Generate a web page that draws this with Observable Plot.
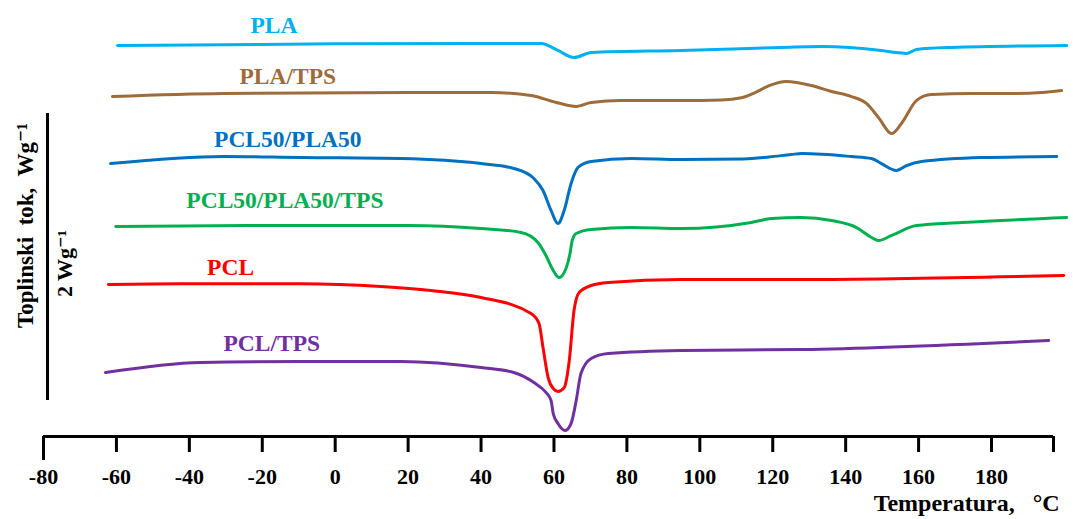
<!DOCTYPE html>
<html>
<head>
<meta charset="utf-8">
<script src="https://cdn.jsdelivr.net/npm/d3@7"></script>
<script src="https://cdn.jsdelivr.net/npm/@observablehq/plot@0.6"></script>
<style>
  html, body { margin: 0; padding: 0; background: #fff; }
  #chart svg { display: block; }
</style>
</head>
<body>
<div id="chart"></div>
<script>
// ---- Data (temperature °C, heat flow W/g with stacking offsets) ----
const plaT = [-59.7, -30, 0, 40, 56.5, 61.1, 65.5, 70.2, 94.9, 122.4, 133.3, 149.8, 153.9, 156.7, 159.4, 169, 200.6];
const plaH = [2.725, 2.730, 2.737, 2.739, 2.739, 2.690, 2.641, 2.676, 2.690, 2.711, 2.718, 2.690, 2.676, 2.669, 2.697, 2.711, 2.725];

const plaTpsT = [-61.1, -30.6, 20, 42.7, 53.7, 60.6, 66.1, 70.2, 78.4, 94.9, 106, 111.4, 115, 119, 123.7, 130.6, 136.1, 141.6, 145.7, 149.0, 152.6, 155.3, 159.4, 163.5, 174.5, 185.5, 193.8, 199.2];
const plaTpsH = [2.369, 2.390, 2.397, 2.397, 2.376, 2.328, 2.300, 2.328, 2.341, 2.341, 2.345, 2.360, 2.395, 2.445, 2.474, 2.446, 2.404, 2.369, 2.321, 2.223, 2.111, 2.181, 2.341, 2.383, 2.390, 2.390, 2.397, 2.411];

const pcl50T = [-61.6, -30.6, -9.4, 18, 40, 49, 54.5, 57, 59.2, 61.1, 62.8, 64.7, 66.6, 70.2, 81.2, 94.9, 112, 119, 125.1, 127.9, 141.6, 147.1, 149.8, 153.9, 156.7, 160.8, 177.3, 197.9];
const pcl50H = [1.902, 1.951, 1.944, 1.937, 1.902, 1.868, 1.798, 1.714, 1.575, 1.484, 1.575, 1.763, 1.875, 1.916, 1.937, 1.930, 1.934, 1.948, 1.965, 1.972, 1.951, 1.937, 1.902, 1.854, 1.888, 1.916, 1.944, 1.951];

const pcl50TpsT = [-60.2, -20, 20, 40, 51, 55.6, 57.8, 59.8, 61.4, 63.3, 64.4, 65.0, 66.1, 70.2, 81.2, 94.9, 114.1, 119.6, 127.9, 136.1, 143.0, 147.1, 149.0, 152.6, 159.4, 171.8, 200.6];
const pcl50TpsH = [1.463, 1.470, 1.470, 1.449, 1.422, 1.352, 1.261, 1.157, 1.108, 1.171, 1.275, 1.366, 1.415, 1.443, 1.456, 1.449, 1.491, 1.519, 1.526, 1.505, 1.456, 1.387, 1.366, 1.401, 1.470, 1.491, 1.526];

const pclT = [-62.2, -42.4, -9.4, 12.5, 26.3, 40, 53.7, 55.9, 57.0, 58.4, 59.8, 61.1, 62.8, 64.2, 65.5, 66.9, 70.2, 74.9, 94.9, 127.9, 199.8];
const pclH = [1.059, 1.064, 1.064, 1.045, 1.017, 0.969, 0.857, 0.787, 0.620, 0.411, 0.334, 0.314, 0.341, 0.530, 0.878, 1.003, 1.052, 1.073, 1.094, 1.094, 1.122];

const pclTpsT = [-63.0, -36.9, -9.4, 18, 40, 49, 54.5, 57.8, 59.2, 59.8, 61.1, 63.1, 64.7, 66.1, 67.4, 70.2, 74.9, 94.9, 127.9, 195.7];
const pclTpsH = [0.446, 0.516, 0.523, 0.523, 0.481, 0.446, 0.376, 0.307, 0.251, 0.160, 0.091, 0.042, 0.091, 0.251, 0.439, 0.544, 0.578, 0.599, 0.606, 0.669];

const seriesNames = ["PLA", "PLA/TPS", "PCL50/PLA50", "PCL50/PLA50/TPS", "PCL", "PCL/TPS"];
const seriesColors = ["#00b0f0", "#9e6b3a", "#0070c0", "#00b050", "#ff0000", "#7030a0"];
const seriesT = [plaT, plaTpsT, pcl50T, pcl50TpsT, pclT, pclTpsT];
const seriesH = [plaH, plaTpsH, pcl50H, pcl50TpsH, pclH, pclTpsH];
const labelT = [-16.8, -13.0, -13.0, -13.8, -28.7, -17.4];
const labelH = [2.864, 2.509, 2.070, 1.645, 1.178, 0.648];

const tickValues = [-80, -60, -40, -20, 0, 20, 40, 60, 80, 100, 120, 140, 160, 180, 197];
const tickLabels = ["-80", "-60", "-40", "-20", "0", "20", "40", "60", "80", "100", "120", "140", "160", "180", ""];

// scale bar: 2 W/g
const scaleBar = [{T: -78.9, H1: 0.251, H2: 2.251}];

const serif = "'Liberation Serif', 'Times New Roman', 'DejaVu Serif', serif";

const lineMarks = seriesNames.map((name, i) => {
  const rows = seriesT[i].map((t, j) => ({T: t, H: seriesH[i][j]}));
  return Plot.line(rows, {x: "T", y: "H", stroke: seriesColors[i], strokeWidth: 3, curve: "monotone-x"});
});
const labelMarks = seriesNames.map((name, i) =>
  Plot.text([{T: labelT[i], H: labelH[i], name}], {x: "T", y: "H", text: "name", fill: seriesColors[i], fontSize: 23.5, fontWeight: "bold"})
);

const chart = Plot.plot({
  width: 1085,
  height: 519,
  marginLeft: 43,
  marginRight: 32,
  marginTop: 5.5,
  marginBottom: 83,
  style: {fontFamily: serif, background: "#fff", color: "#000"},
  x: {domain: [-80, 197]},
  y: {domain: [0, 3], axis: null},
  marks: [
    Plot.ruleY([0], {strokeWidth: 3}),
    Plot.axisX({
      ticks: tickValues,
      tickFormat: (d) => tickLabels[tickValues.indexOf(d)],
      tickSize: 16,
      tickPadding: 16,
      strokeWidth: 3,
      fontSize: 22,
      fontWeight: "bold",
      label: null
    }),
    Plot.ruleX([-80], {y1: 0, y2: -0.167, strokeWidth: 3}),
    Plot.ruleX(scaleBar, {x: "T", y1: "H1", y2: "H2", strokeWidth: 3}),
    Plot.text(["2 Wg\u207B\u00B9"], {x: -74, y: 1.206, rotate: -90, fontSize: 22, fontWeight: "bold"}),
    Plot.text(["Toplinski\u00A0 tok,\u00A0 Wg\u207B\u00B9"], {x: -84.9, y: 1.47, rotate: -90, fontSize: 23, fontWeight: "bold"}),
    Plot.text(["Temperatura,\u00A0\u00A0\u00A0°C"], {x: 198.7, y: -0.467, textAnchor: "end", fontSize: 24, fontWeight: "bold"}),
    ...lineMarks,
    ...labelMarks
  ]
});
document.getElementById("chart").appendChild(chart);
</script>
</body>
</html>
